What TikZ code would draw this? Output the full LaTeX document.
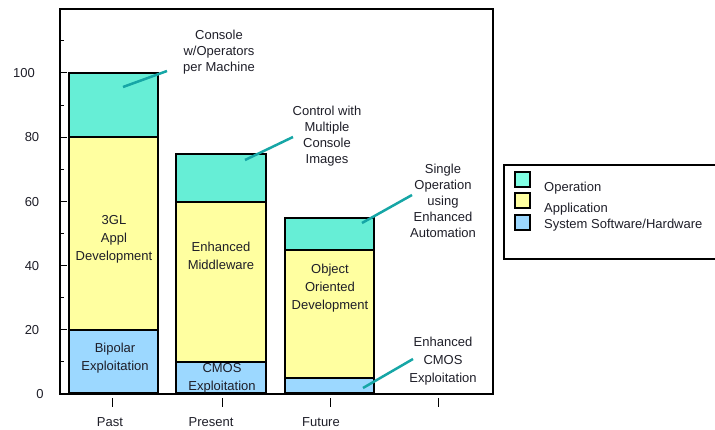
\documentclass[tikz,border=0pt]{standalone}
\usepackage{fontspec}
\setmainfont{Liberation Sans}
\definecolor{opc}{RGB}{102,238,214}
\definecolor{opl}{RGB}{128,255,228}
\definecolor{appc}{RGB}{255,255,160}
\definecolor{sysc}{RGB}{156,216,255}
\definecolor{callc}{RGB}{22,166,166}
\definecolor{txt}{RGB}{30,30,40}
\tikzset{
  seg/.style={draw=black, line width=2pt},
  frame/.style={draw=black, line width=2.5pt},
  lbl/.style={font=\fontsize{13}{18}\selectfont, text=txt, align=center, inner sep=0pt},
  clbl/.style={font=\fontsize{13}{16}\selectfont, text=txt, align=center, inner sep=0pt},
  ylbl/.style={font=\fontsize{13}{16}\selectfont, text=txt, inner sep=0pt},
  callout/.style={draw=callc, line width=2.5pt},
  tick/.style={draw=black, line width=1pt},
  key/.style={draw=black, line width=2.5pt},
}
\begin{document}
\begin{tikzpicture}[x=1pt, y=-1pt]
\useasboundingbox (0,0) rectangle (715,430);
\clip (0,0) rectangle (715,430);

% bars: 1 unit = 3.21pt, baseline at y=394
% Past
\path[seg, fill=sysc] (69,393) rectangle (158,330);
\path[seg, fill=appc] (69,330) rectangle (158,137);
\path[seg, fill=opc]  (69,137) rectangle (158,73);
% Present
\path[seg, fill=sysc] (176,393) rectangle (266,362);
\path[seg, fill=appc] (176,362) rectangle (266,202);
\path[seg, fill=opc]  (176,202) rectangle (266,154);
% Future
\path[seg, fill=sysc] (285,393) rectangle (374,378);
\path[seg, fill=appc] (285,378) rectangle (374,250);
\path[seg, fill=opc]  (285,250) rectangle (374,218);

% plot frame
\path[frame] (60,9) rectangle (493,394);

% y-axis ticks
\foreach \v in {10,30,50,70,90,110}
  \path[tick] (60,{394-3.21*\v}) -- (64,{394-3.21*\v});
\foreach \v in {20,40,60,80,100}
  \path[tick] (60,{394-3.21*\v}) -- (67,{394-3.21*\v});

% y-axis labels
\node[ylbl] (y100) at (24,73)  {100};
\node[ylbl] (y80)  at (32,137) {80};
\node[ylbl] (y60)  at (32,202) {60};
\node[ylbl] (y40)  at (32,266) {40};
\node[ylbl] (y20)  at (32,330) {20};
\node[ylbl] (y0)   at (40,394) {0};

% x-axis ticks and labels
\foreach \xx in {112,222,330,438}
  \path[tick] (\xx,398) -- (\xx,407);
\node[ylbl] (xpast)    at (110,422) {Past};
\node[ylbl] (xpresent) at (211,422) {Present};
\node[ylbl] (xfuture)  at (321,422) {Future};

% segment texts
\node[lbl] (tgl)  at (114,239) {3GL\\Appl\\Development};
\node[lbl] (bip)  at (115,358) {Bipolar\\Exploitation};
\node[lbl] (mid)  at (221,256) {Enhanced\\Middleware};
\node[lbl] (cmos) at (222,378) {CMOS\\Exploitation};
\node[lbl] (ood)  at (330,288) {Object\\Oriented\\Development};

% callouts
\node[clbl] (cpm) at (219,52)  {Console\\w/Operators\\per Machine};
\node[clbl] (cmc) at (327,136) {Control with\\Multiple\\Console\\Images};
\node[clbl] (soa) at (443,201) {Single\\Operation\\using\\Enhanced\\Automation};
\node[lbl]  (ecx) at (443,361) {Enhanced\\CMOS\\Exploitation};

\coordinate (a1) at (123,87);  \coordinate (b1) at (167,71);
\coordinate (a2) at (245,160); \coordinate (b2) at (293,137);
\coordinate (a3) at (362,223); \coordinate (b3) at (412,195);
\coordinate (a4) at (363,388); \coordinate (b4) at (413,359);
\path[callout] (a1) -- (b1);
\path[callout] (a2) -- (b2);
\path[callout] (a3) -- (b3);
\path[callout] (a4) -- (b4);

% legend
\path[frame] (504,165) rectangle (722,259);
\path[key, fill=opl]  (515,172) rectangle (530,187);
\path[key, fill=appc] (515,193) rectangle (530,208);
\path[key, fill=sysc] (515,215) rectangle (530,230);
\node[ylbl, anchor=west] (lop)  at (544,188) {Operation};
\node[ylbl, anchor=west] (lapp) at (544,209) {Application};
\node[ylbl, anchor=west] (lsys) at (544,225) {System Software/Hardware};
\end{tikzpicture}
\end{document}
